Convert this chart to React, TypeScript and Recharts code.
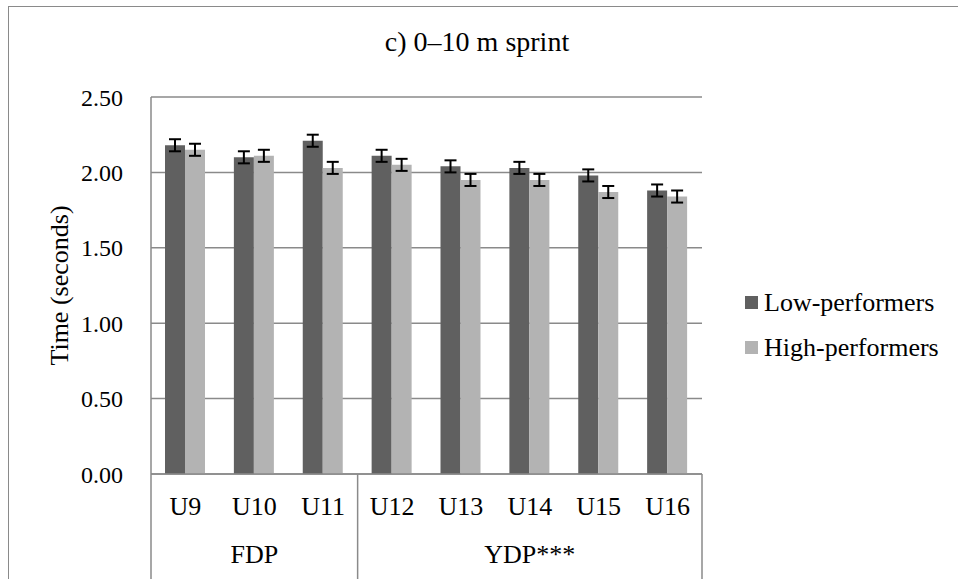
import React from 'react';
import { BarChart, Bar, XAxis, YAxis, CartesianGrid, ErrorBar, Legend } from 'recharts';

// Age-group categories and the development phase each belongs to
const categories = ['U9', 'U10', 'U11', 'U12', 'U13', 'U14', 'U15', 'U16'];
const phaseLabels = ['FDP', 'YDP***'];
const phaseOfCategory = [0, 0, 0, 1, 1, 1, 1, 1];

// Mean 0–10 m sprint time (s) and error (s) per group
const seriesNames = ['Low-performers', 'High-performers'];
const lowPerformers = [2.18, 2.1, 2.21, 2.11, 2.04, 2.03, 1.98, 1.88];
const lowPerformersErr = [0.04, 0.04, 0.04, 0.04, 0.04, 0.04, 0.04, 0.04];
const highPerformers = [2.15, 2.11, 2.03, 2.05, 1.95, 1.95, 1.87, 1.84];
const highPerformersErr = [0.04, 0.04, 0.04, 0.04, 0.04, 0.04, 0.04, 0.04];

const yTicks = [0, 0.5, 1, 1.5, 2, 2.5];

const data = categories.map((c, i) => ({
  category: c,
  phase: phaseLabels[phaseOfCategory[i]],
  low: lowPerformers[i],
  lowErr: lowPerformersErr[i],
  high: highPerformers[i],
  highErr: highPerformersErr[i],
}));

const W = 958;
const H = 579;
const MARGIN = { top: 97, right: 256, bottom: 0, left: 0 };
const Y_AXIS_W = 151;
const X_AXIS_H = 105;
const PLOT_W = W - MARGIN.left - Y_AXIS_W - MARGIN.right;
const BAND = PLOT_W / categories.length;

const FONT = '"Liberation Serif", "Times New Roman", serif';
const GRID = '#8a8a8a';
const DARK = '#606060';
const LIGHT = '#b3b3b3';

const CategoryTick = (props: any) => {
  const { x, y, index, payload } = props;
  const i = index as number;
  const lines: React.ReactNode[] = [];
  const last = i === categories.length - 1 || phaseOfCategory[i] !== phaseOfCategory[i + 1];
  if (i === 0) {
    lines.push(<line key="l" x1={x - BAND / 2} x2={x - BAND / 2} y1={y} y2={H + 5} stroke={GRID} strokeWidth={1.5} />);
  }
  if (last) {
    lines.push(<line key="r" x1={x + BAND / 2} x2={x + BAND / 2} y1={y} y2={H + 5} stroke={GRID} strokeWidth={1.5} />);
  }
  // phase label centred under its run of categories
  let phaseText: React.ReactNode = null;
  const members = categories.map((_, k) => k).filter((k) => phaseOfCategory[k] === phaseOfCategory[i]);
  const mid = (members[0] + members[members.length - 1]) / 2;
  if (Math.floor(mid) === i) {
    const cx = x + (mid - i) * BAND;
    phaseText = (
      <text x={cx} y={y + 89} textAnchor="middle" fontFamily={FONT} fontSize={26} fill="#000">
        {phaseLabels[phaseOfCategory[i]]}
      </text>
    );
  }
  return (
    <g>
      {lines}
      <text x={x} y={y + 41} textAnchor="middle" fontFamily={FONT} fontSize={26} fill="#000">
        {payload.value}
      </text>
      {phaseText}
    </g>
  );
};

const LegendContent = (props: any) => {
  const items = [...((props.payload || []) as any[])].sort(
    (a, b) => seriesNames.indexOf(a.value) - seriesNames.indexOf(b.value)
  );
  return (
    <div style={{ fontFamily: FONT, fontSize: 26, color: '#000' }}>
      {items.map((it, k) => (
        <div key={k} style={{ display: 'flex', alignItems: 'center', height: 45, whiteSpace: 'nowrap' }}>
          <span style={{ display: 'inline-block', width: 13, height: 13, background: it.color, marginRight: 6 }} />
          <span>{it.value}</span>
        </div>
      ))}
    </div>
  );
};

export default function App() {
  return (
    <div style={{ position: 'relative', width: W, height: H, background: '#fff', overflow: 'hidden' }}>
      <style>{'body{margin:0;}'}</style>
      <div
        style={{
          position: 'absolute',
          left: 8,
          top: 6,
          width: W,
          height: H,
          borderTop: `1.5px solid ${GRID}`,
          borderLeft: `1.5px solid ${GRID}`,
        }}
      />
      <div
        style={{
          position: 'absolute',
          left: 0,
          width: 954,
          top: 24,
          textAlign: 'center',
          fontFamily: FONT,
          fontSize: 28,
          lineHeight: '36px',
          color: '#000',
        }}
      >
        c) 0–10 m sprint
      </div>
      <BarChart width={W} height={H} data={data} margin={MARGIN} barGap={0} barSize={20}>
        <CartesianGrid horizontal vertical={false} stroke={GRID} strokeWidth={1.5} />
        <XAxis
          dataKey="category"
          height={X_AXIS_H}
          interval={0}
          tickLine={false}
          tickSize={0}
          tickMargin={0}
          axisLine={{ stroke: GRID, strokeWidth: 1.5 }}
          tick={(p: any) => <CategoryTick {...p} />}
        />
        <YAxis
          width={Y_AXIS_W}
          domain={[0, 2.5]}
          ticks={yTicks}
          tickFormatter={(v: number) => v.toFixed(2)}
          tickLine={false}
          tickSize={0}
          tickMargin={28}
          axisLine={{ stroke: GRID, strokeWidth: 1.5 }}
          tick={{ fontFamily: FONT, fontSize: 24, fill: '#000' }}
          label={{
            value: 'Time (seconds)',
            angle: -90,
            position: 'insideLeft',
            dx: 54,
            style: { fontFamily: FONT, fontSize: 26, fill: '#000', textAnchor: 'middle' },
          }}
        />
        <Legend
          layout="horizontal"
          verticalAlign="middle"
          align="center"
          content={<LegendContent />}
          wrapperStyle={{ position: 'absolute', left: 745, top: 280, width: 210 }}
        />
        <Bar dataKey="low" name={seriesNames[0]} fill={DARK} isAnimationActive={false}>
          <ErrorBar dataKey="lowErr" direction="y" width={6} stroke="#000" strokeWidth={2} isAnimationActive={false} />
        </Bar>
        <Bar dataKey="high" name={seriesNames[1]} fill={LIGHT} isAnimationActive={false}>
          <ErrorBar dataKey="highErr" direction="y" width={6} stroke="#000" strokeWidth={2} isAnimationActive={false} />
        </Bar>
      </BarChart>
    </div>
  );
}
